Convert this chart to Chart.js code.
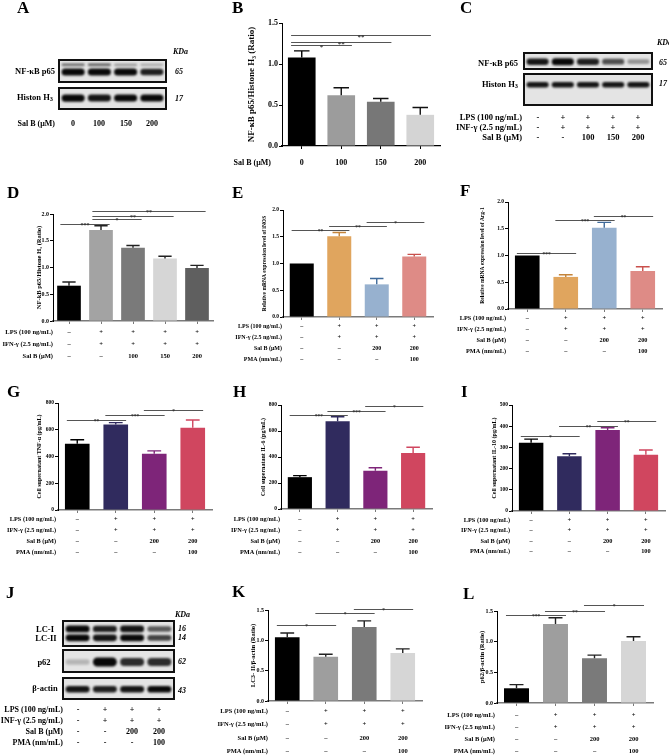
<!DOCTYPE html>
<html>
<head>
<meta charset="utf-8">
<script src="https://cdn.jsdelivr.net/npm/chart.js@4.4.0/dist/chart.umd.min.js"></script>
<style>
  body { margin: 0; background: #fff; }
  #fig { position: relative; width: 669px; height: 756px; overflow: hidden;
         font-family: "Liberation Serif", "Times New Roman", serif; font-weight: bold; color: #000; }
  .abs { position: absolute; white-space: nowrap; line-height: 1; filter: grayscale(100%); }
  .letter { position: absolute; font-size: 17px; line-height: 1; filter: grayscale(100%); }
  canvas { position: absolute; }
  .blot { position: absolute; border: 2px solid #111; background: #e4e4e4; }
  sub { font-size: 0.75em; vertical-align: -0.2em; line-height: 0; }
</style>
</head>
<body>
<div id="fig"></div>
<script>
const F = '"Liberation Serif", "Times New Roman", serif';

// ---- data ----
// B: NF-kB p65 / Histone H3 ratio
const salB_B = ['0', '100', '150', '200'];
const ratioB = [1.08, 0.62, 0.54, 0.38];
const semB = [0.08, 0.09, 0.04, 0.09];
const sigB = [[0, 1, 1.23, '*'], [0, 2, 1.27, '**'], [0, 3, 1.35, '**']];

// D: NF-kB p65 / Histone H3 ratio, LPS + IFN
const ratioD = [0.66, 1.70, 1.37, 1.17, 0.99];
const semD = [0.07, 0.08, 0.04, 0.04, 0.05];
const sigD = [[0, 1, 1.81, '***'], [1, 2, 1.91, '*'], [1, 3, 1.97, '**'], [1, 4, 2.06, '**']];

// E: iNOS mRNA, F: Arg-1 mRNA
const inosE = [1.00, 1.51, 0.61, 1.13];
const semE = [0, 0.07, 0.11, 0.04];
const sigE = [[0, 1, 1.63, '**'], [1, 2, 1.70, '**'], [2, 3, 1.78, '*']];
const arg1F = [1.00, 0.60, 1.52, 0.71];
const semF = [0, 0.04, 0.10, 0.08];
const sigF = [[0, 1, 1.05, '***'], [1, 2, 1.67, '***'], [2, 3, 1.74, '**']];

// G: TNF-a, H: IL-6, I: IL-10 (pg/mL)
const tnfG = [495, 640, 420, 615];
const semG = [30, 13, 22, 58];
const sigG = [[0, 1, 675, '**'], [1, 2, 712, '***'], [2, 3, 750, '*']];
const il6H = [245, 675, 295, 430];
const semH = [12, 35, 22, 45];
const sigH = [[0, 1, 720, '***'], [1, 2, 757, '***'], [2, 3, 790, '*']];
const il10I = [322, 258, 382, 265];
const semI = [17, 12, 11, 23];
const sigI = [[0, 1, 355, '*'], [1, 2, 402, '**'], [2, 3, 425, '**']];

// K: LC3-II / b-actin, L: p62 / b-actin
const lc3K = [1.05, 0.73, 1.22, 0.79];
const semK = [0.07, 0.04, 0.10, 0.07];
const sigK = [[0, 1, 1.26, '*'], [1, 2, 1.45, '*'], [2, 3, 1.52, '*']];
const p62L = [0.24, 1.29, 0.73, 1.01];
const semL = [0.06, 0.10, 0.05, 0.07];
const sigL = [[0, 1, 1.43, '***'], [1, 2, 1.50, '**'], [2, 3, 1.60, '*']];

// treatment rows
const lps5 = ['–', '+', '+', '+', '+'];
const ifn5 = ['–', '+', '+', '+', '+'];
const sal5 = ['–', '–', '100', '150', '200'];
const lps4 = ['–', '+', '+', '+'];
const ifn4 = ['–', '+', '+', '+'];
const sal4 = ['–', '–', '200', '200'];
const pma4 = ['–', '–', '–', '100'];
const lpsC = ['-', '+', '+', '+', '+'];
const infC = ['-', '+', '+', '+', '+'];
const salC = ['-', '-', '100', '150', '200'];
const lpsJ = ['-', '+', '+', '+'];
const infJ = ['-', '+', '+', '+'];
const salJ = ['-', '-', '200', '200'];
const pmaJ = ['-', '-', '-', '100'];

// blot band densities (0..1) per lane
const p65A = [1.0, 0.95, 0.95, 0.85];
const p65A_upper = [0.55, 0.6, 0.35, 0.3];
const h3A = [1.0, 0.9, 0.95, 0.95];
const p65C = [0.9, 1.0, 0.85, 0.65, 0.35];
const h3C = [0.9, 0.9, 0.9, 0.9, 0.9];
const lc1J = [0.95, 0.85, 0.9, 0.6];
const lc2J = [1.0, 0.9, 0.95, 0.7];
const p62J = [0.2, 1.0, 0.8, 0.8];
const actinJ = [0.9, 0.85, 0.9, 0.95];

// ---- colours ----
const graysB = ['#000000', '#9c9c9c', '#777777', '#d4d4d4'];
const graysD = ['#000000', '#a3a3a3', '#7a7a7a', '#d6d6d6', '#5f5f5f'];
const graysK = ['#000000', '#9e9e9e', '#7a7a7a', '#d6d6d6'];
const pastel = ['#000000', '#e0a55e', '#97b1cf', '#de8b86'];
const pastelErr = ['#000000', '#c4843a', '#3f6a9a', '#c9504c'];
const deep = ['#000000', '#302b5e', '#7e2579', '#d0465f'];

const fig = document.getElementById('fig');

// plain positioned text, y = vertical centre; no transforms (keeps glyphs grey-scale)
function txt(s, x, y, size, align, style) {
  const d = document.createElement('div');
  d.className = 'abs';
  d.innerHTML = s;
  d.style.fontSize = size + 'px';
  d.style.top = Math.round(y - size * 0.5) + 'px';
  if (align === 'r') {
    d.style.width = '150px'; d.style.left = (x - 150) + 'px'; d.style.textAlign = 'right';
  } else if (align === 'c') {
    d.style.width = '60px'; d.style.left = Math.round(x - 30) + 'px'; d.style.textAlign = 'center';
  } else {
    d.style.left = x + 'px';
  }
  if (style) Object.assign(d.style, style);
  fig.appendChild(d);
}

function letter(s, x, y) {
  const d = document.createElement('div');
  d.className = 'letter';
  d.textContent = s;
  d.style.left = x + 'px';
  d.style.top = y + 'px';
  fig.appendChild(d);
}

// error bars, significance brackets and treatment rows
function makeExtras(o) {
  return {
    id: 'extras',
    afterDraw(chart) {
      const ctx = chart.ctx, xs = chart.scales.x, ys = chart.scales.y;
      const meta = chart.getDatasetMeta(0);
      ctx.save();
      meta.data.forEach((bar, i) => {
        if (!o.sem[i]) return;
        const yTop = ys.getPixelForValue(o.values[i] + o.sem[i]);
        const hw = bar.width * 0.28;
        ctx.strokeStyle = o.errColors[i];
        ctx.lineWidth = 1.4;
        ctx.beginPath();
        ctx.moveTo(bar.x, bar.y);
        ctx.lineTo(bar.x, yTop);
        ctx.moveTo(bar.x - hw, yTop);
        ctx.lineTo(bar.x + hw, yTop);
        ctx.stroke();
      });

      const step = xs.getPixelForValue(1) - xs.getPixelForValue(0);
      o.sig.forEach(([a, b, v, lab]) => {
        const x1 = xs.getPixelForValue(a) - step * 0.27;
        const x2 = xs.getPixelForValue(b) + step * 0.27;
        const y = Math.round(ys.getPixelForValue(v)) + 0.5;
        ctx.strokeStyle = '#555';
        ctx.lineWidth = 1;
        ctx.beginPath();
        ctx.moveTo(x1, y);
        ctx.lineTo(x2, y);
        ctx.stroke();
        ctx.fillStyle = '#333';
        ctx.font = `bold ${o.sigSize}px ${F}`;
        ctx.textAlign = 'center';
        ctx.textBaseline = 'alphabetic';
        ctx.fillText(lab, (x1 + x2) / 2, y + o.sigSize * 0.45);
      });

      ctx.fillStyle = '#000';
      ctx.font = `bold ${o.rowSize}px ${F}`;
      ctx.textBaseline = 'middle';
      o.rows.forEach(([name, vals], r) => {
        const y = o.rowY0 + r * o.rowGap - o.box[1];
        ctx.textAlign = 'right';
        ctx.fillText(name, o.headerRight - o.box[0], y);
        ctx.textAlign = 'center';
        vals.forEach((v, i) => ctx.fillText(v, xs.getPixelForValue(i), y));
      });
      ctx.restore();
    }
  };
}

function barChart(o) {
  const c = document.createElement('canvas');
  c.width = o.box[2] - o.box[0];
  c.height = o.box[3] - o.box[1];
  c.style.left = o.box[0] + 'px';
  c.style.top = o.box[1] + 'px';
  fig.appendChild(c);
  const xColor = o.xColor || '#7a7a7a';
  new Chart(c, {
    type: 'bar',
    data: {
      labels: o.values.map((v, i) => String(i)),
      datasets: [{
        data: o.values,
        backgroundColor: o.colors,
        barPercentage: o.barPct || 0.64,
        categoryPercentage: 1
      }]
    },
    options: {
      responsive: false,
      animation: false,
      layout: {
        padding: {
          left: o.axisX - o.box[0] - o.yw,
          top: o.topY - o.box[1],
          right: o.box[2] - o.axisRight,
          bottom: 0
        }
      },
      scales: {
        x: {
          ticks: { display: false },
          grid: { drawOnChartArea: false, offset: false, tickLength: 3, color: xColor },
          border: { color: xColor, width: o.xWidth || 1.5 },
          afterFit: s => { s.height = o.box[3] - o.zeroY; }
        },
        y: {
          min: 0,
          max: o.max,
          ticks: {
            stepSize: o.step,
            color: '#000',
            padding: 1,
            font: { family: F, weight: 'bold', size: o.tick },
            callback: o.fmt
          },
          grid: { drawOnChartArea: false, tickLength: 3, color: '#000' },
          border: { color: '#000', width: 1 },
          title: {
            display: true,
            text: o.title,
            color: '#000',
            padding: 0,
            font: { family: F, weight: 'bold', size: o.titleSize }
          },
          afterFit: s => { s.width = o.yw; }
        }
      },
      plugins: { legend: { display: false }, tooltip: { enabled: false } }
    },
    plugins: [makeExtras(o)]
  });
}

const blurPlugin = {
  id: 'blur',
  beforeDatasetsDraw(chart) { chart.ctx.save(); chart.ctx.filter = 'blur(1px)'; },
  afterDatasetsDraw(chart) { chart.ctx.restore(); }
};

// box = outer border rectangle; bands = [{dens, center, half}]
function blot(box, bands) {
  const w = box[2] - box[0] - 4, h = box[3] - box[1] - 4;
  const d = document.createElement('div');
  d.className = 'blot';
  d.style.left = box[0] + 'px';
  d.style.top = box[1] + 'px';
  d.style.width = w + 'px';
  d.style.height = h + 'px';
  const c = document.createElement('canvas');
  c.width = w; c.height = h;
  c.style.left = '0px'; c.style.top = '0px';
  d.appendChild(c);
  fig.appendChild(d);
  const n = bands[0].dens.length;
  new Chart(c, {
    type: 'bar',
    data: {
      labels: bands[0].dens.map((v, i) => String(i)),
      datasets: bands.map(b => ({
        data: b.dens.map(v => [b.center - b.half * (0.5 + 0.5 * v), b.center + b.half * (0.5 + 0.5 * v)]),
        backgroundColor: b.dens.map(v => `rgba(8,8,8,${Math.min(1, v * 1.05)})`),
        barPercentage: 0.88,
        categoryPercentage: 1,
        grouped: false,
        borderSkipped: false,
        borderRadius: 5
      }))
    },
    options: {
      responsive: false,
      animation: false,
      layout: { padding: 0 },
      scales: {
        x: { display: false },
        y: { display: false, min: -1, max: 1 }
      },
      plugins: { legend: { display: false }, tooltip: { enabled: false } }
    },
    plugins: [blurPlugin]
  });
  // lane centres (same as the category scale of the blot)
  return bands[0].dens.map((v, i) => box[0] + 2 + (i + 0.5) * w / n);
}

function laneRows(lanes, rows, y0, gap, headerRight, size) {
  rows.forEach(([name, vals], r) => {
    const y = y0 + r * gap;
    txt(name, headerRight, y, size, 'r');
    vals.forEach((v, i) => txt(v, lanes[i], y, size, 'c'));
  });
}

// ---- panel letters ----
letter('A', 17, -1); letter('B', 232, -1); letter('C', 460, -1);
letter('D', 7, 184); letter('E', 232, 184); letter('F', 460, 182);
letter('G', 7, 383); letter('H', 233, 383); letter('I', 461, 383);
letter('J', 6, 584); letter('K', 232, 583); letter('L', 463, 585);

// ---- A ----
const lanesA = blot([58, 59, 167, 83], [
  { dens: p65A, center: -0.1, half: 0.36 },
  { dens: p65A_upper, center: 0.62, half: 0.16 }
]);
blot([58, 87, 167, 110], [{ dens: h3A, center: 0.05, half: 0.38 }]);
txt('KDa', 173, 52, 8, null, { fontStyle: 'italic' });
txt('65', 175, 72, 8, null, { fontStyle: 'italic' });
txt('17', 175, 99, 8, null, { fontStyle: 'italic' });
txt('NF-κB p65', 55, 71, 8.5, 'r');
txt('Histon H<sub>3</sub>', 53, 97, 8.5, 'r');
laneRows(lanesA, [['Sal B (μM)', salB_B]], 124, 0, 55, 8);

// ---- B ----
barChart({
  box: [225, 12, 445, 175], axisX: 282, axisRight: 440, topY: 23, zeroY: 146, yw: 36,
  values: ratioB, sem: semB, colors: graysB, errColors: ['#000', '#111', '#111', '#111'],
  max: 1.5, step: 0.5, fmt: v => v.toFixed(1), tick: 8,
  title: 'NF-κB p65/Histone H₃ (Ratio)', titleSize: 9,
  sig: sigB, sigSize: 7,
  rows: [['Sal B (μM)', salB_B]], rowY0: 163, rowGap: 0, headerRight: 271, rowSize: 8,
  xColor: '#000', xWidth: 1.2, barPct: 0.7
});

// ---- C ----
const lanesC = blot([523, 52, 653, 70], [{ dens: p65C, center: -0.1, half: 0.5 }]);
blot([523, 73, 653, 106], [{ dens: h3C, center: 0.33, half: 0.2 }]);
txt('KDa', 657, 43, 8, null, { fontStyle: 'italic' });
txt('65', 659, 63, 8, null, { fontStyle: 'italic' });
txt('17', 659, 84, 8, null, { fontStyle: 'italic' });
txt('NF-κB p65', 518, 63, 8.5, 'r');
txt('Histon H<sub>3</sub>', 518, 84, 8.5, 'r');
laneRows(lanesC, [['LPS (100 ng/mL)', lpsC], ['INF-γ (2.5 ng/mL)', infC], ['Sal B (μM)', salC]],
  117, 10, 522, 8.5);

// ---- D ----
barChart({
  box: [0, 198, 222, 365], axisX: 53, axisRight: 213, topY: 214, zeroY: 321, yw: 18,
  values: ratioD, sem: semD, colors: graysD, errColors: graysD.map(() => '#222'),
  max: 2, step: 0.5, fmt: v => v.toFixed(1), tick: 6,
  title: 'NF-kB p65/Histone H₃ (Ratio)', titleSize: 6.5,
  sig: sigD, sigSize: 6,
  rows: [['LPS (100 ng/mL)', lps5], ['IFN-γ (2.5 ng/mL)', ifn5], ['Sal B (μM)', sal5]],
  rowY0: 332, rowGap: 12, headerRight: 53, rowSize: 6.5, barPct: 0.74
});

// ---- E ----
barChart({
  box: [225, 198, 442, 365], axisX: 283, axisRight: 433, topY: 210, zeroY: 317, yw: 22,
  values: inosE, sem: semE, colors: pastel, errColors: pastelErr,
  max: 2, step: 0.5, fmt: v => v.toFixed(1), tick: 5.5,
  title: 'Relative mRNA expression level of iNOS', titleSize: 5.5,
  sig: sigE, sigSize: 5.5,
  rows: [['LPS (100 ng/mL)', lps4], ['IFN-γ (2.5 ng/mL)', ifn4], ['Sal B (μM)', sal4], ['PMA (nm/mL)', pma4]],
  rowY0: 326, rowGap: 11, headerRight: 282, rowSize: 6
});

// ---- F ----
barChart({
  box: [445, 192, 669, 362], axisX: 508, axisRight: 662, topY: 202, zeroY: 309, yw: 29,
  values: arg1F, sem: semF, colors: pastel, errColors: pastelErr,
  max: 2, step: 0.5, fmt: v => v.toFixed(1), tick: 5.5,
  title: 'Relative mRNA expression level of Arg-1', titleSize: 5.5,
  sig: sigF, sigSize: 5.5,
  rows: [['LPS (100 ng/mL)', lps4], ['IFN-γ (2.5 ng/mL)', ifn4], ['Sal B (μM)', sal4], ['PMA (nm/mL)', pma4]],
  rowY0: 318, rowGap: 11, headerRight: 506, rowSize: 6.3
});

// ---- G ----
barChart({
  box: [0, 396, 222, 562], axisX: 58, axisRight: 212, topY: 403, zeroY: 510, yw: 22,
  values: tnfG, sem: semG, colors: deep, errColors: deep,
  max: 800, step: 200, fmt: v => String(v), tick: 5.5,
  title: 'Cell supernatant TNF-α (pg/mL)', titleSize: 6,
  sig: sigG, sigSize: 5.5,
  rows: [['LPS (100 ng/mL)', lps4], ['IFN-γ (2.5 ng/mL)', ifn4], ['Sal B (μM)', sal4], ['PMA (nm/mL)', pma4]],
  rowY0: 519, rowGap: 11, headerRight: 56, rowSize: 6.3
});

// ---- H ----
barChart({
  box: [225, 396, 442, 562], axisX: 281, axisRight: 432, topY: 405, zeroY: 509, yw: 21,
  values: il6H, sem: semH, colors: deep, errColors: deep,
  max: 800, step: 200, fmt: v => String(v), tick: 5.5,
  title: 'Cell supernatant IL-6 (pg/mL)', titleSize: 6,
  sig: sigH, sigSize: 5.5,
  rows: [['LPS (100 ng/mL)', lps4], ['IFN-γ (2.5 ng/mL)', ifn4], ['Sal B (μM)', sal4], ['PMA (nm/mL)', pma4]],
  rowY0: 519, rowGap: 11, headerRight: 280, rowSize: 6.3
});

// ---- I ----
barChart({
  box: [445, 396, 669, 562], axisX: 512, axisRight: 665, topY: 405, zeroY: 511, yw: 21,
  values: il10I, sem: semI, colors: deep, errColors: deep,
  max: 500, step: 100, fmt: v => String(v), tick: 5.5,
  title: 'Cell supernatant IL-10 (pg/mL)', titleSize: 6,
  sig: sigI, sigSize: 5.5,
  rows: [['LPS (100 ng/mL)', lps4], ['IFN-γ (2.5 ng/mL)', ifn4], ['Sal B (μM)', sal4], ['PMA (nm/mL)', pma4]],
  rowY0: 520, rowGap: 10.5, headerRight: 510, rowSize: 6.3
});

// ---- J ----
const lanesJ = blot([62, 620, 175, 647], [
  { dens: lc1J, center: 0.4, half: 0.3 },
  { dens: lc2J, center: -0.38, half: 0.3 }
]);
blot([62, 649, 175, 673], [{ dens: p62J, center: -0.1, half: 0.45 }]);
blot([62, 677, 175, 700], [{ dens: actinJ, center: -0.08, half: 0.36 }]);
txt('KDa', 175, 615, 8, null, { fontStyle: 'italic' });
txt('16', 178, 629, 8, null, { fontStyle: 'italic' });
txt('14', 178, 638, 8, null, { fontStyle: 'italic' });
txt('62', 178, 662, 8, null, { fontStyle: 'italic' });
txt('43', 178, 691, 8, null, { fontStyle: 'italic' });
txt('LC-I', 45, 629, 8.5, 'c');
txt('LC-II', 46, 638, 8.5, 'c');
txt('p62', 44, 662, 8.5, 'c');
txt('β-actin', 45, 688, 8.5, 'c');
laneRows(lanesJ, [['LPS (100 ng/mL)', lpsJ], ['INF-γ (2.5 ng/mL)', infJ], ['Sal B (μM)', salJ], ['PMA (nm/mL)', pmaJ]],
  710, 11, 63, 8);

// ---- K ----
barChart({
  box: [210, 598, 442, 756], axisX: 268, axisRight: 422, topY: 610, zeroY: 701, yw: 19,
  values: lc3K, sem: semK, colors: graysK, errColors: graysK.map(() => '#222'),
  max: 1.5, step: 0.5, fmt: v => v.toFixed(1), tick: 6,
  title: 'LC3- II/β-actin (Ratio)', titleSize: 6.5,
  sig: sigK, sigSize: 5.5,
  rows: [['LPS (100 ng/mL)', lps4], ['IFN-γ (2.5 ng/mL)', ifn4], ['Sal B (μM)', sal4], ['PMA (nm/mL)', pma4]],
  rowY0: 711, rowGap: 13.5, headerRight: 268, rowSize: 6.5
});

// ---- L ----
barChart({
  box: [445, 598, 669, 756], axisX: 497, axisRight: 653, topY: 611, zeroY: 703, yw: 19,
  values: p62L, sem: semL, colors: graysK, errColors: graysK.map(() => '#222'),
  max: 1.5, step: 0.5, fmt: v => v.toFixed(1), tick: 6,
  title: 'p62/β-actin (Ratio)', titleSize: 6.5,
  sig: sigL, sigSize: 5.5,
  rows: [['LPS (100 ng/mL)', lps4], ['IFN-γ (2.5 ng/mL)', ifn4], ['Sal B (μM)', sal4], ['PMA (nm/mL)', pma4]],
  rowY0: 715, rowGap: 12, headerRight: 495, rowSize: 6.5
});
</script>
</body>
</html>
